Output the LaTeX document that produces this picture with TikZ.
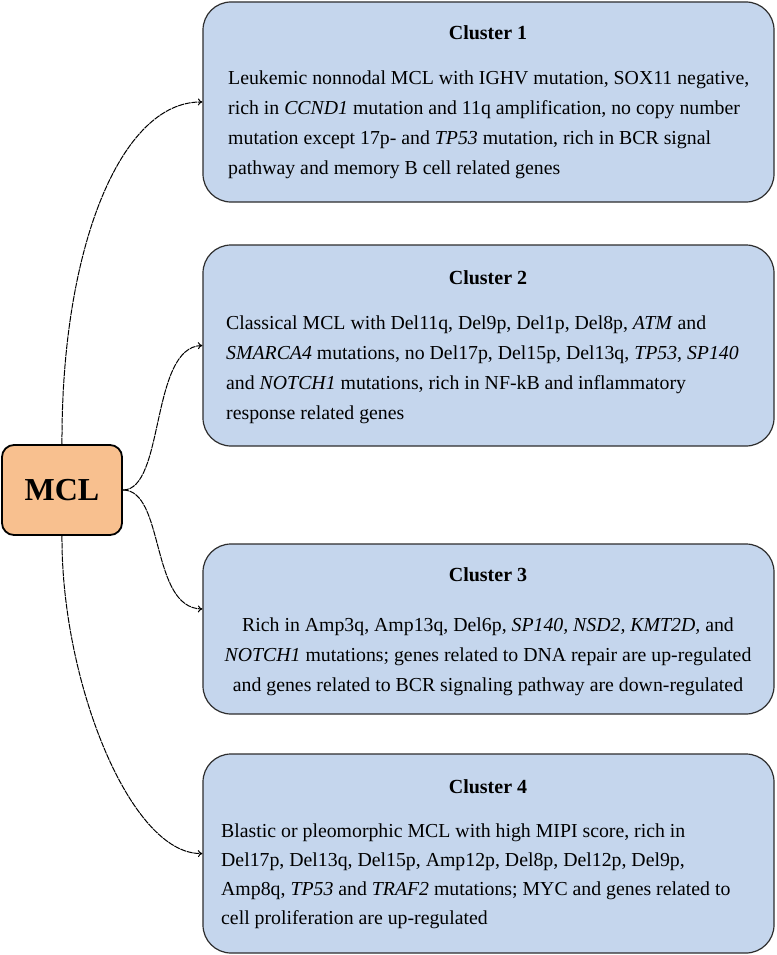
\documentclass[tikz,border=0pt]{standalone}
\usepackage{fontspec}
\setmainfont{Liberation Serif}
\usetikzlibrary{arrows.meta}
\definecolor{boxblue}{RGB}{197,214,237}
\definecolor{mclorange}{RGB}{248,192,143}
\definecolor{edgegray}{RGB}{45,45,45}
\begin{document}
\begin{tikzpicture}[x=1pt,y=-1pt,
  cluster/.style={draw=edgegray,line width=1.2pt,fill=boxblue,rounded corners=28pt,
    minimum width=571pt,inner sep=0pt},
  mclbox/.style={draw=black,line width=1.8pt,fill=mclorange,rounded corners=12pt,
    minimum width=120pt,minimum height=90pt,inner sep=0pt,
    font=\fontsize{32}{36}\selectfont\bfseries},
  ctitle/.style={anchor=base,inner sep=0pt,font=\fontsize{20}{24}\selectfont\bfseries},
  cbody/.style={inner sep=0pt,font=\fontsize{19.8}{30}\selectfont},
  link/.style={line width=1pt,dash pattern=on 6pt off 0.8pt,-{To[length=4.5pt,width=7pt]}}]
\useasboundingbox (0,0) rectangle (776,955);

\node[mclbox] (mcl) at (62,490) {MCL};

\node[cluster,minimum height=200pt] (c1) at (488.5,102) {};
\node[cluster,minimum height=201pt] (c2) at (488.5,345.5) {};
\node[cluster,minimum height=170pt] (c3) at (488.5,629) {};
\node[cluster,minimum height=199pt] (c4) at (488.5,853.5) {};

\node[ctitle] (t1) at (488,40) {Cluster 1};
\node[ctitle] (t2) at (488,284) {Cluster 2};
\node[ctitle] (t3) at (488,581) {Cluster 3};
\node[ctitle] (t4) at (488,793) {Cluster 4};

\node[cbody,anchor=north west,align=left] (b1) at (228,63) {\strut Leukemic nonnodal MCL with IGHV mutation, SOX11 negative,\\
rich in \textit{CCND1} mutation and 11q amplification, no copy number\\
mutation except 17p- and \textit{TP53} mutation, rich in BCR signal\\
pathway and memory B cell related genes};

\node[cbody,anchor=north west,align=left] (b2) at (226,308) {\strut Classical MCL with Del11q, Del9p, Del1p, Del8p, \textit{ATM} and\\
\textit{SMARCA4} mutations, no Del17p, Del15p, Del13q, \textit{TP53}, \textit{SP140}\\
and \textit{NOTCH1} mutations, rich in NF-kB and inflammatory\\
response related genes};

\node[cbody,anchor=north,align=center] (b3) at (488,610) {\strut Rich in Amp3q, Amp13q, Del6p, \textit{SP140, NSD2, KMT2D,} and\\
\textit{NOTCH1} mutations; genes related to DNA repair are up-regulated\\
and genes related to BCR signaling pathway are down-regulated};

\node[cbody,anchor=north west,align=left,font=\fontsize{19.8}{29}\selectfont] (b4) at (221,817) {\strut Blastic or pleomorphic MCL with high MIPI score, rich in\\
Del17p, Del13q, Del15p, Amp12p, Del8p, Del12p, Del9p,\\
Amp8q, \textit{TP53} and \textit{TRAF2} mutations; MYC and genes related to\\
cell proliferation are up-regulated};

\draw[link] (mcl.north) .. controls (61,250) and (120,101) .. (c1.west);
\draw[link] (mcl.east) .. controls (165,490) and (150,347) .. (c2.west);
\draw[link] (mcl.east) .. controls (165,490) and (150,608) .. (c3.176);
\draw[link] (mcl.south) .. controls (61,680) and (130,855) .. (c4.west);
\end{tikzpicture}
\end{document}
